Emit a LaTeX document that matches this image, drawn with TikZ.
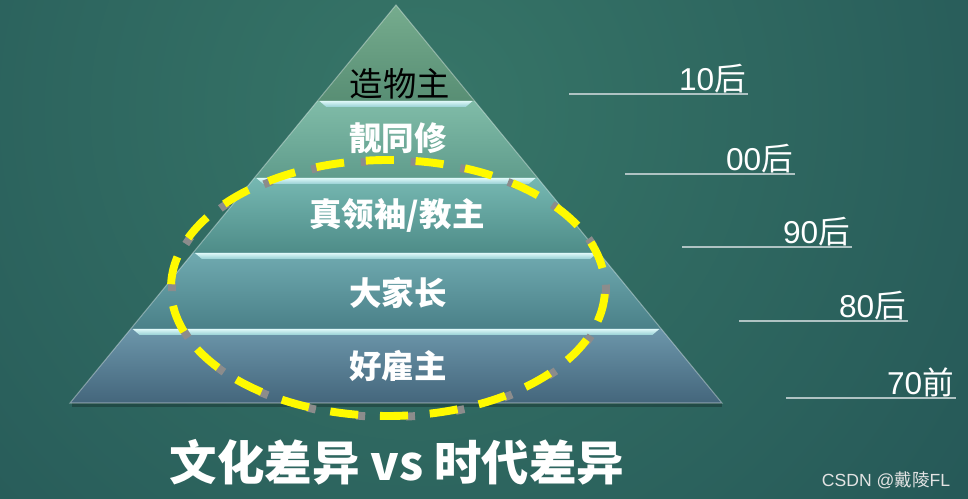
\documentclass[tikz,border=0pt]{standalone}
\usepackage{fontspec}
\setmainfont{Liberation Sans}
\newfontfamily\cjk{Noto Sans CJK SC}
\usetikzlibrary{positioning}

\definecolor{bginner}{RGB}{55,118,104}
\definecolor{bgouter}{RGB}{21,60,72}
\definecolor{bandAtop}{RGB}{118,172,142}
\definecolor{bandAbot}{RGB}{88,142,116}
\definecolor{bandBtop}{RGB}{128,188,168}
\definecolor{bandBbot}{RGB}{96,156,140}
\definecolor{bandCtop}{RGB}{118,184,178}
\definecolor{bandCbot}{RGB}{78,140,136}
\definecolor{bandDtop}{RGB}{112,170,176}
\definecolor{bandDbot}{RGB}{74,128,136}
\definecolor{bandEtop}{RGB}{108,150,170}
\definecolor{bandEbot}{RGB}{68,102,124}
\definecolor{liptop}{RGB}{222,248,248}
\definecolor{lipbot}{RGB}{150,208,212}
\definecolor{ringyellow}{RGB}{255,250,0}
\definecolor{ringgrey}{RGB}{140,140,140}
\definecolor{eraline}{RGB}{175,195,195}

\tikzset{
  level/.style={font=\cjk\bfseries\fontsize{18.5}{18.5}\selectfont, text=white},
  era/.style={font=\fontsize{18}{18}\selectfont, text=white, inner sep=0pt},
  eraunder/.style={draw=eraline, line width=0.6pt},
  theme/.style={font=\cjk\bfseries\fontsize{27}{27}\selectfont, text=white},
  watermark/.style={font=\fontsize{10}{10}\selectfont, text=white!78!gray}
}

\begin{document}
\begin{tikzpicture}[x=0.02cm, y=-0.02cm]
  % Background
  \useasboundingbox (0,0) rectangle (968,499);
  \begin{scope}
    \clip (0,0) rectangle (968,499);
    \shade[inner color=bginner, outer color=bgouter] (420,110) circle (1320);
  \end{scope}
  % Shadow under the base
  \fill[black, opacity=0.25] (72,403) rectangle (722,407);
  % Pyramid: top band
  \shade[top color=bandAtop, bottom color=bandAbot]
    (396,5) -- ({396+0.819*96},101) -- ({396-0.819*96},101) -- cycle;
  % Pyramid: lower bands
  \foreach \ya/\yb/\ct/\cb in {101/178/bandBtop/bandBbot, 178/253/bandCtop/bandCbot,
                               253/329/bandDtop/bandDbot, 329/403/bandEtop/bandEbot}{
    \shade[top color=\ct, bottom color=\cb]
      ({396-0.819*(\ya-5)},\ya) -- ({396+0.819*(\ya-5)},\ya)
      -- ({396+0.819*(\yb-5)},\yb) -- ({396-0.819*(\yb-5)},\yb) -- cycle;
    \shade[top color=liptop, bottom color=lipbot]
      ({396-0.819*(\ya-5)+2},\ya) -- ({396+0.819*(\ya-5)-2},\ya)
      -- ({396+0.819*(\ya-5)-9},\ya+6) -- ({396-0.819*(\ya-5)+9},\ya+6) -- cycle;
  }
  % Pyramid outline
  \draw[white, opacity=0.35, line width=0.6pt]
    (396,5) -- ({396+0.819*398},403) -- ({396-0.819*398},403) -- cycle;
  % Level labels
  \node[level, text=black, font=\cjk\mdseries\fontsize{19}{19}\selectfont] (maker) at (400,84) {造物主};
  \node[level] (peer) at (398,138) {靓同修};
  \node[level] (leader) at (397,215) {真领袖/教主};
  \node[level] (parent) at (398,293) {大家长};
  \node[level] (boss) at (398,366) {好雇主};
  % Dashed ring
  \draw[ringgrey, line width=4.5pt, dash pattern=on 5pt off 23.4pt]
    (389,289) ellipse [x radius=217, y radius=128];
  \draw[ringyellow, line width=4.5pt, dash pattern=on 16pt off 12.4pt, dash phase=25pt]
    (388,288) ellipse [x radius=217, y radius=128];
  % Generation labels
  \foreach \n/\xa/\xb/\y/\t in {gen10/569/748/94/{10{\cjk 后}}, gen00/625/795/174/{00{\cjk 后}},
                                gen90/682/852/247/{90{\cjk 后}}, gen80/739/908/321/{80{\cjk 后}},
                                gen70/786/956/398/{70{\cjk 前}}}{
    \coordinate (\n-l) at (\xa,\y);
    \coordinate (\n-r) at (\xb,\y);
    \node[era, above left=0.5pt and 1pt of \n-r] (\n) {\t};
    \draw[eraunder] (\n-l) -- (\n-r);
  }
  % Title
  \node[theme] (title) at (397,462) {文化差异 vs 时代差异};
  \node[watermark] (credit) at (886,480) {CSDN @{\cjk 戴陵}FL};
\end{tikzpicture}
\end{document}
